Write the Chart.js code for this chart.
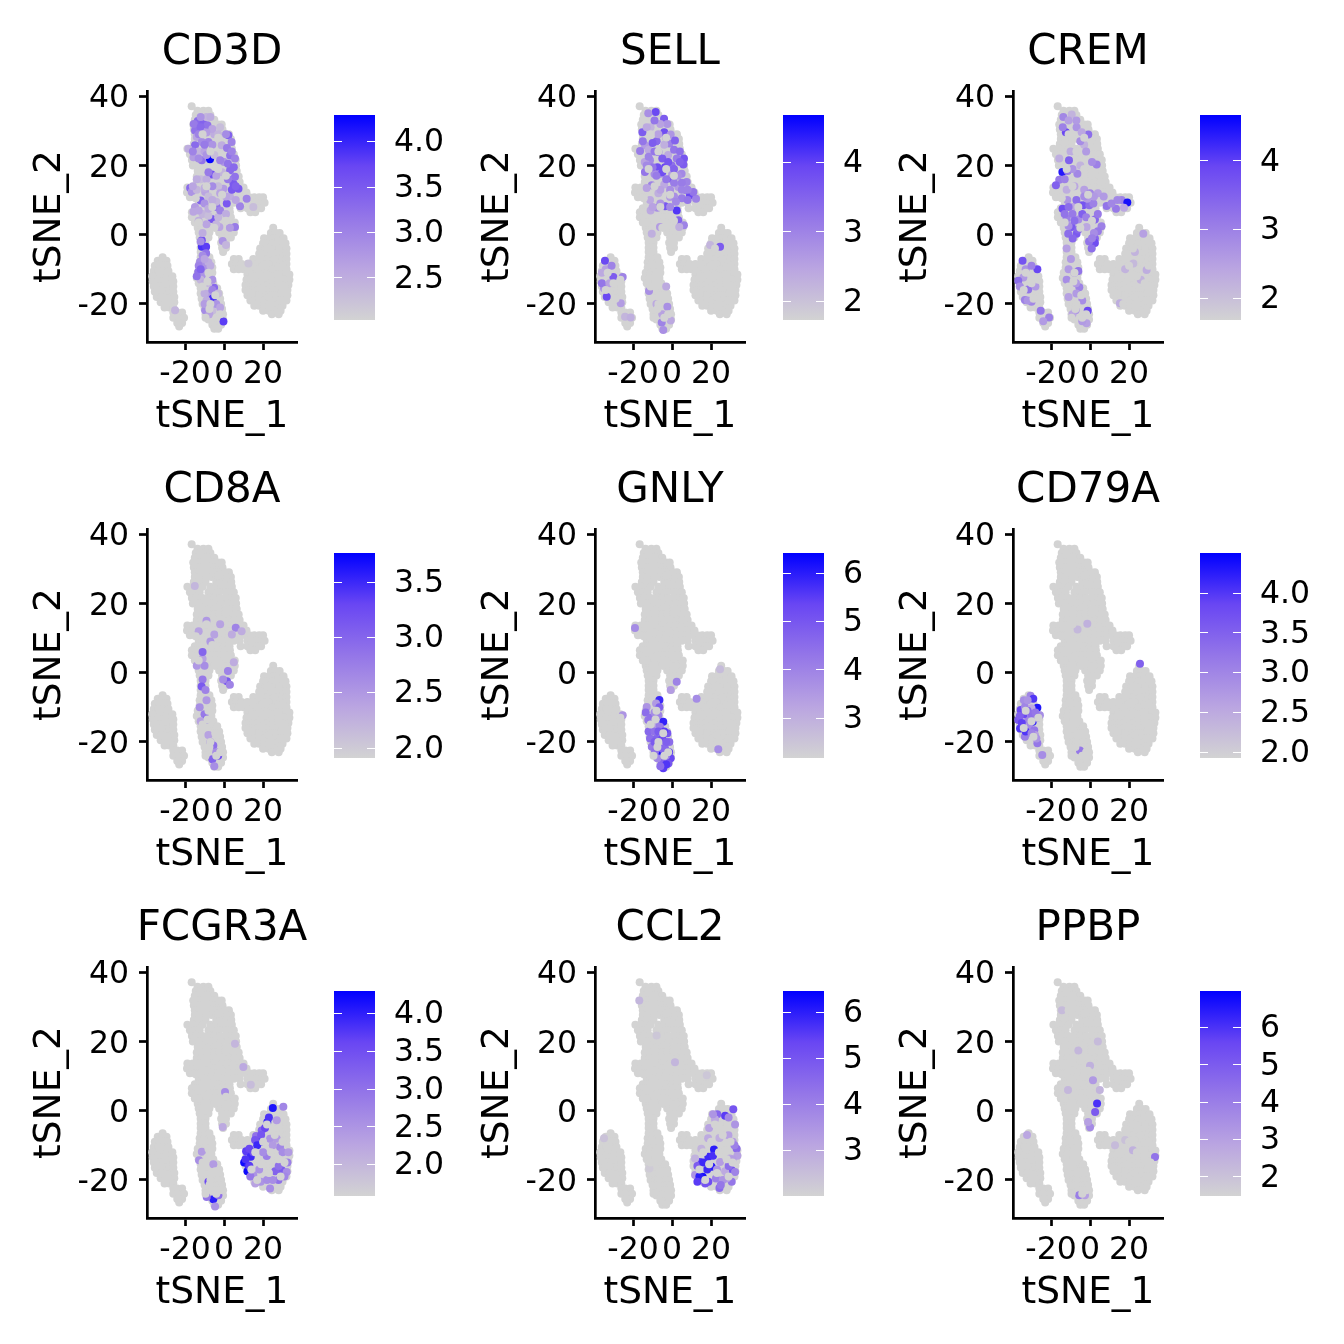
<!DOCTYPE html>
<html>
<head>
<meta charset="utf-8">
<title>tSNE feature plots</title>
<script src="https://cdn.jsdelivr.net/npm/chart.js@4"></script>
<style>
	html, body { margin: 0; padding: 0; background: #ffffff; }
	canvas { position: absolute; }
</style>
</head>
<body>
<script>
// tick labels
var xTicks = [-20, 0, 20];
var yTicks = [-20, 0, 20, 40];

// every cell, one row per line: y first, then the x values on that row
var upperLobe = [
	[37.1,-16.6],
	[35.8,-13.6,-10.6,-8],
	[34.6,-14.5,-12,-9.5,-7],
	[33.2,-15,-12.5,-10,-7.5,-5],
	[31.8,-15.8,-13,-10.5,-8,-5.5,-3,-1.2],
	[30.4,-15.5,-13,-10,-7.5,-5,-2.5,-0.8],
	[29,-15,-12.5,-10,-7,-4.5,-2,0.5,2.5],
	[27.6,-15,-12.5,-9,-6.5,-4,-1,1.5,3.5],
	[26.2,-15.5,-12,-9.5,-4,-2,1,3.7],
	[24.8,-18.8,-16,-13.5,-11,-7,-4,-1.5,1,4],
	[23.2,-17.5,-15,-12.5,-8,-5,-2.5,1,3.5,5],
	[21.6,-16.5,-14,-11,-8,-5,-2,0.5,3.5,6],
	[20,-16,-13,-10,-7,-4,-1.5,2,4.5,6.2],
	[18.4,-13.5,-11,-8,-5,-2,1,4,6.5],
	[16.8,-14,-11,-8,-5,-2.5,0.5,3,6,7.5],
	[15.2,-14,-11.5,-9,-6,-3,0,3,5.5,8],
	[13.6,-18.8,-16,-13,-10,-7,-4,-1,2,5,8,10],
	[12.2,-19,-16.5,-14,-11,-8,-5,-2,1,4,7,9.5,11.5],
	[10.8,-17.5,-15,-12,-9,-6,-3,0,3,6,9,11.5,13,15.5,18,20],
	[9.2,-13,-10,-7,-4,-1,2,5,8,12,14,16.5,19,20.8],
	[7.6,-15,-12,-9,-6,-3,0,2.8,8.5,12,14.5,17,19],
	[6.5,-16.5,-14,-11,-8,-5,-2,0.5,3,13.5,16],
	[5,-16.5,-13.5,-10.5,-7.5,-4.5,-1.5,1.5,3.5],
	[3.5,-15,-12,-9,-6,-3,0,3,5.5],
	[2,-13.5,-10.5,-7.5,-4,-1,2,5.5],
	[0.6,-13,-10,-7.5,-2.5,0.5,3,5],
	[-0.8,-12.5,-10,-8,-1,1.5,3.5],
	[-2.3,-12,-9.5,-1.5,1],
	[-3.8,-12,-9.5,-1,1],
	[-5,-12,-9.5,-0.5]
];
var stemCells = [
	[-6.5,-12,-9.5,-7.5],
	[-8,-12.5,-10,-7.5,-6.5],
	[-9.5,-12.5,-10,-7.5,-6],
	[-11,-13.5,-11,-8.5,-6],
	[-12.5,-14,-11.5,-9,-6.5],
	[-14,-13,-10.5,-8,-5.5],
	[-15.5,-12,-9.5,-7,-5,-3.5],
	[-17,-12,-9.5,-7,-4.5,-2.5],
	[-18.5,-11.5,-9,-6.5,-4,-2],
	[-20,-11,-8.5,-6,-3.5,-1.5],
	[-21.5,-10,-7.5,-5,-2.5,-1],
	[-23,-9.5,-7,-4.5,-2,-0.5],
	[-24.5,-8,-5.5,-3,-0.5],
	[-26,-6,-3.5,-1.5],
	[-27.2,-5,-3]
];
var leftCells = [
	[-6.5,-31.5],
	[-7.5,-34,-31.5,-29.5],
	[-9,-35.5,-33,-30.5,-29],
	[-10.5,-36,-33.5,-31,-28.5],
	[-12,-36.8,-34,-31.5,-29,-26.5],
	[-13.5,-36.5,-34,-31.5,-29,-26],
	[-15,-36,-33.5,-31,-28.5,-26],
	[-16.5,-35.5,-33,-30.5,-28,-26],
	[-18,-34.5,-32,-29.5,-27,-25.5],
	[-19.5,-32.5,-30,-27.5,-25.5],
	[-21,-30.5,-28,-26],
	[-22.5,-26,-24,-21.5],
	[-24,-26,-24,-21.5,-20.5],
	[-25.5,-24,-21.5],
	[-26.5,-23]
];
var rightCells = [
	[2,25.2],
	[0.5,24,26.5,28.5],
	[-1,20.5,23,25.5,28,30.5],
	[-2.5,20,22.5,25,27.5,30,31.5],
	[-4,18.5,21,23.5,26,28.5,31,32],
	[-5.5,18,20.5,23,25.5,28,30.5,32],
	[-7,5,7.5,15,17.5,20,22.5,25,27.5,30,32],
	[-8.5,4,6.5,9,12,14.5,17,19.5,22,24.5,27,29.5,32],
	[-10,5,7.5,10,12.5,15,17.5,20,22.5,25,27.5,30,32],
	[-11.5,12,14.5,17,19.5,22,24.5,27,29.5,32,33.5],
	[-13,11.5,13.5,16,18.5,21,23.5,26,28.5,31,33.5],
	[-14.5,11,12.5,15,17.5,20,22.5,25,27.5,30,33],
	[-16,11,12.5,15,17.5,20,22.5,25,27.5,30,32.5],
	[-17.5,12,14,16.5,19,21.5,24,26.5,29,31.5,32.5],
	[-19,13.5,15.5,18,20.5,23,25.5,28,30.5,32],
	[-20.5,15.5,18,20.5,23,25.5,28,30],
	[-22,20,23,25.5,28,29],
	[-23,24.5,28]
];

// non-expressing cells that sit on top of the coloured ones
var topCells = [
	[-11,29],[-3,28],[-7,24],[-12,19],[-3,19],[1,17],[-9,14],[-14.5,10.5],[-1,11.5],[-6,8],[-13,3.5],[-5,2],[1,4],
	[-8,-11],[-11,-15],[-7,-20],[-4,-24],[-9.5,-24],[-8.5,-13.5],[-4.5,-17.5],[-7.5,-21.5],[-2,-23],
	[-33,-11],[-30,-14],[-34,-16],[-29,-18.5],[-26.5,-13],
	[22,-4],[26,-7],[20,-9],[16,-12],[24,-12],[30,-9],[28,-14],[19,-15.5],[23,-18],[14,-17],[29,-19],[31,-15],[17,-20]
];

// expressing cells of each gene: x, y, expression
var cd3dCells = [
	[-13.5,32.8,3.3],[-14.9,30.1,3.2],[-10.6,32,3.4],[-8.5,31.6,3.2],[-14,28.2,2.6],[-8,26.8,3],[-11.4,26.8,2.9],[-14.9,25.8,3.3],
	[-18.3,24.8,2.5],[-15.7,22.4,2.7],[-11.4,21.5,3.2],[-7.2,21.8,4.25],[-6.3,17.4,3.6],[2.2,28.7,3.4],[3.9,26.8,3],[3.1,22.9,3.2],
	[5.6,22,3],[3.1,18.6,3.3],[-1.2,25.8,2.5],[4.8,14.7,3.5],[7.4,13.3,3.5],[5.6,16.7,3.2],[-17.4,13.5,3.3],[-16.6,12.3,2.8],
	[-12,9.9,3.4],[-9.7,12.3,2.6],[-0.3,13.3,2.7],[1.4,9,3.5],[-3.8,8,3.2],[-6.3,4.5,3.5],[-14.9,8,2.7],[-15.7,6.6,2.6],
	[-2.4,2.2,2.6],[5.6,2.2,3.1],[8.2,8.2,3],[11.6,10.4,3],[15,8,2.3],[-0.7,-1.8,2.8],[-11.4,-1.6,3.6],[-11.4,-3.5,3.9],
	[-9.2,-3.5,3.8],[-9.2,-5.4,3.2],[-12.3,-7.8,2.9],[-9.7,-8.8,2.8],[-13.2,-10.7,3.2],[-11.4,-11.7,2.8],[-5.1,-15.3,3.3],[-7.5,-17.1,2.7],
	[-5.8,-18.4,3.9],[-9.7,-21.8,2.9],[-0.3,-25.1,3.8],[-25.1,-21.8,2.4],[12.5,-8.3,2.2],
	[-9,34,2.4],[-5,29,2.5],[-2,31,2.3],[-13,24,2.4],[-10,24,2.6],[-5,23,2.3],[0,21,2.8],[-1,18,2.4],[-12,16,2.3],[-9,16,2.5],
	[-3,14,2.3],[-14,13,2.4],[-8,11,2.3],[-4,9.5,2.4],[3,11,2.5],[6,10,2.6],[-11,6,2.4],[-8,5.5,2.3],[-3,5,2.4],[-11,0.5,2.5],
	[1,-3,2.4],[-8,-8,2.5],[-12,-13,2.4],[-8,-14,2.3],[-9,-19,2.5],[-6,-22,2.3],
	[-12,34,2.8],[-7,34,2.5],[-15.5,32,3.1],[-12,31,3.3],[-6,30.5,2.6],[-13,29,3],[-9,29.5,2.7],[-3,29,2.4],[1,29,2.9],[-6,26,2.8],
	[-10,26,3.1],[1.5,25,3.1],[4,24,3],[-16,24,3],[-13,22,2.9],[-9,23,2.8],[-2,21.5,3],[2,20.5,3.2],[5,19.5,3.3],[-4,17,2.6],
	[2,16,3.1],[4,13,3.5],[6,14,3.4],[-8,18,3.1],[-14,16,2.5],[-10,13.5,2.5],[-6,14,2.9],[-2,12,2.6],[-16,14,2.6],[1,11,2.6],
	[-10,9,2.8],[-6,10,2.5],[-13,7,2.6],[-8,7.5,2.5],[-2,7,3],[1,6,2.5],[-13,4,2.5],[-9,3,2.6],[-4,3,2.4],[3,2,2.7],
	[-12,-2,2.9],[-11,-6,2.9],[-10,-7,2.6],[-13,-9,3],[-9,-10,2.8],[-7,-9,2.5],[-14,-12,3.2],[-12,-10,3.4],[-10,-14,2.5],[-6,-13,2.8],
	[-6,-16,3],[-10,-17,2.5],[-3,-17,2.3],[-4,-20,2.8],[-10,-20,2.7],[-7.5,-23,2.6],[-2,-21,2.6]
];
var sellCells = [
	[-8.4,35.4,3.9],[-12.2,35.1,2.8],[-4.1,33.5,3.6],[-2.4,32,2.7],[-15.2,29.6,3.6],[-4,29.6,3.8],[-0.7,28.9,2.7],[-7.9,27,3.4],
	[-13.9,25.8,2.6],[-1.4,26.3,3],[1.5,27.2,3.5],[-16.4,24.2,3.1],[-7,23.9,3.6],[-11.3,21.5,2.9],[6.1,22,3.7],[2.4,22,3.1],
	[-7.5,19.5,3.8],[-3.6,19.5,3.9],[-0.2,20,3.3],[5.8,20.3,3.6],[-13.9,18.1,3.2],[-6.2,17.6,2.9],[4.9,17.6,2.9],[-0.7,16.2,3.7],
	[7.5,15.2,3],[-10.4,14.3,3],[3.2,13.8,2.6],[7.2,12.8,3],[9.2,11.4,3.9],[12.3,10.4,3],[10.9,12.3,3.2],[-3.6,8.2,3.7],
	[2.4,7,4.1],[-7.5,7.8,2.8],[-1,10.9,2.6],[-11.3,10,2.4],[3.2,4.2,3.5],[6.1,2.7,3],[3.7,2.2,2.3],[-6.2,2.2,2.6],[-10.4,0.3,2.3],
	[-34.4,-7.5,3.9],[-25.3,-12.2,3],[-34.9,-15.5,2.8],[-33.5,-17.9,3.9],[-30.1,-12.2,3.6],[-36,-14,3.2],[-26.3,-19.8,2.6],[-24.1,-23.7,2.2],
	[-21.2,-23.9,2.3],[-11.8,-16.3,2.8],[-2.4,-20.8,2.8],[-5.3,-25.4,3],[-4.5,-27.5,2.8],[-0.7,-24.8,2.4],[19.5,-3,2.2],[24.6,-3.5,3.6],
	[-11,31,2.2],[-6,32,2.5],[-12,24.5,2.4],[-4,26,2.3],[-2,23,2.4],[-14,21,2.5],[0,17.5,2.6],[-9,17.5,2.8],[-4,14.5,2.4],[3,17,2.8],[-7,12,2.3],[-11,7,2.4],
	[-9,33,3.2],[-13,31,2.4],[-7,29,2.5],[-15,27,3.2],[-10,26.5,3.6],[-3,28,3.1],[1,24.5,3.2],[4,24,3.3],[-9,24,3.2],[-12,22.5,3],
	[-5,22,3.6],[-2,21,3.7],[1,19,3.5],[4,21,3.5],[-10,19.5,3.2],[-13,20,2.9],[-5,18,3.8],[-8,17,3.1],[-3,16,3.2],[1,15,3.1],
	[5,15,3.1],[-1,13,2.8],[5,13,3],[8,13,3],[-13,13.5,2.5],[-6,13,2.5],[1,11,2.8],[5,10.5,3.1],[8,10,3.2],[-1,8,2.9],
	[-6,9,2.7],[-10,8,2.5],[2,9.5,2.9],[-34,-10,2.5],[-36,-11,2.4],[-32,-14,2.5],[-31,-9,3],[-8,-20,2.4],[-3,-15,2.4],[-5,-23,2.5]
];
var cremCells = [
	[-13.7,34,2.9],[-9.4,34.7,2.2],[-6.9,31,2.7],[-0.9,28.9,3.3],[-4.3,29.6,2.4],[-12.4,29.6,3.9],[-10.8,21.5,3.5],[-14.2,18.1,4.4],
	[-11.5,18.4,3.1],[-6.5,17.6,2.9],[-15.8,22,2.3],[3.4,20.3,3],[-15.8,15.9,3.1],[-17.5,14.3,3.5],[-11.7,10,2.7],[-14.1,7.5,3.8],
	[-5.2,8.5,3.2],[-3.5,8.5,3.7],[-0.4,8.5,3.3],[1.7,9,3],[-1.4,10.4,2.6],[-8.9,8,2.4],[-12,4.6,3],[-6,4.4,2.8],[-9.4,2.2,3.6],
	[-6.9,0.3,3.6],[-11.2,0.3,3.3],[-8.9,-1.1,3.4],[2.5,4.4,3.4],[-1.8,2.2,2.4],[5.9,2.4,3],[2.5,-1.1,3.4],[2.5,-2.4,3.8],[0.8,-4,3.3],
	[8.5,8.3,3.2],[13.3,7.5,3.1],[16.2,10,3],[19.1,9.3,4.5],[17.4,7.8,2.4],[27.3,0.3,2.5],[29,-10.2,2.3],[22.2,-8.3,2.1],[15.3,-19.8,2.3],
	[-9.8,-7,2.6],[-6,-10.5,3.2],[-5.5,-15.2,3],[-7.2,-14,2.6],[-7.4,-21.8,2.7],[-1.2,-22,3.9],[-1.8,-25.6,2.5],
	[-31.7,-15.8,3.2],[-33.4,-18.9,3],[-30,-19.4,2.9],[-25.3,-22,3.2],[-21,-23.9,3],[-34.2,-12.4,2.6],[-34.6,-7.5,3.7],[-27,-10,3.9],[-36.8,-13.3,3.3],
	[-10,24,2.3],[-3,26,2.2],[-8,14,2.4],[-3,13,2.5],[-12,13,2.3],[4,12,2.5],[7,11,2.6],[-5,20,2.2],
	[-14,31,3],[-11,33,2.5],[-7,33,2.6],[-5,27,2.8],[-2,24,2.6],[1,21,2.8],[-13,16,3],[-9,19,2.7],[-7,10,3.3],[-11,8,3.3],
	[-9,6,3.1],[-4,6,3.5],[-2,5,3],[-13,6,3.2],[-11,2.5,2.8],[-8,4,3.3],[-6,1.5,3.4],[-3,11,2.8],[0,12,2.9],[2,11,2.6],
	[4,6,3.1],[4,1,3.1],[2,0.5,2.8],[-0.5,-2,3.2],[1,-1,3],[11,9,2.9],[14,10,2.9],[-12,-4,2.5],[-11,-10,2.6],[-12,-13,2.8],
	[-8,-11,2.8],[-7,-17,2.6],[-11,-18,2.5],[-4,-19,2.8],[-9,-23,2.4],[-4,-25,2.6],[-33,-10,2.7],[-30,-9,3],[-36,-15,2.8],[-32,-19,2.7],
	[-28,-15,2.6],[-24,-25,2.6],[23,-5,2.2],[18,-10,2.2],[26,-13,2.2]
];
var cd8aCells = [
	[-11,-2,2.8],[-11.5,-4,3.1],[-9.5,-5,2.7],[-12.5,-10,2.6],[-10,-12,2.8],[-9,-13.5,3],[-12,-14,2.4],[-9,-8,2.5],[-7,-20,2.6],[-5.5,-21,2.9],
	[-4,-23,2.6],[-6,-25,3],[-3,-24,3.2],[-5,-27,2.6],[-8,-18,2.4],[-14,2,2.5],[-11,4,2.4],[-11,6,3],[2,0.5,2.7],[1.5,-2.5,3.1],[3,-3.5,2.7],
	[-0.5,-2,2.6],[5,3,2.3],[-5,11,2.4],[-9,15,2.5],[-7,9,2.5],[6,13,2.7],[4,11,2.3],[-15,25,2.2],[-2,14,2.4],[-13,12,2.4],[9,12,2.3],[-10,2,2.6]
];
var gnlyCells = [
	[-6.5,-7.9,5.8],[-8.2,-8.9,3.5],[-13,-9.9,3.6],[-13.5,-11.5,4.5],[-7,-12.3,4],[-4.5,-14.2,5.9],[-12.2,-13.7,4.3],[-8.7,-14.7,4.2],[-6.2,-15.6,4.1],
	[-10.5,-16.6,4.8],[-2.4,-17.5,5],[-11.3,-19,4.5],[-7.9,-19,4.7],[-1.4,-20,4.5],[-7,-21.4,5.1],[-10.4,-21.4,4.2],[-3.6,-21.9,4.6],[-6.2,-23.8,6.1],
	[-8.7,-22.8,4.4],[-0.7,-24.7,5.3],[-5.3,-25.7,4.6],[-1.9,-26.2,5],[-4.5,-27.6,5.5],[-7.5,-24.7,3.9],[-3.1,-24,3.9],[-5.3,-17.5,3.7],[-10.4,-15.1,3.1],[-6.2,-20,3.4],
	[-25.3,-12.3,3.6],[2.4,-2.6,4],[-0.7,-5,3.4],[-19,12.9,3.8],[12.6,-7.5,3.8],[23.7,-22.1,3.8],[24.6,1,2.7],
	[-12,-17,4.6],[-9,-17,4.4],[-5,-19,5.2],[-3,-20,4.8],[-9,-20,4.9],[-5,-22,4.6],[-1.5,-23,5.5],[-3,-26.5,5.6],[-6,-27,4.5],[-11,-13,4.4],[-9,-11.5,3.8],[-6.5,-10,4.8],[-4,-17,5.5],[-7,-17,4.9]
];
var cd79aCells = [
	[-30.5,-6.7,3],[-29.1,-7.5,4],[-33.9,-8,2.9],[-35.6,-10.8,3.8],[-27,-10.1,4.3],[-33.4,-9.9,3],[-25.7,-12.3,2.9],[-36.8,-13.7,3.6],[-34.6,-15.6,3.9],
	[-29.4,-14.2,4.2],[-31.2,-15.8,2.9],[-28.6,-16.6,3.2],[-33.4,-18.5,3.1],[-27,-20.4,3.2],[-24.5,-23.8,2.9],[-31.7,-13.7,3],[-35.9,-16.1,4],[-28.2,-18,2.6],[-30,-10.3,2.5],
	[25.6,2.6,3.5],[-6.4,12.5,2.3],[-1.4,14.1,2.4],[-5.2,-22.5,3.2],
	[-34,-12,3.8],[-32,-11,3.4],[-36,-12.5,3.5],[-30,-12,3.3],[-33,-17,4],[-30,-17.5,3],[-27,-13,3],[-35,-14.5,3.9],[-28,-11.5,3.2],[-32,-8,2.8],[-27.5,-19,2.8]
];
var fcgr3aCells = [
	[22.2,-3.3,3.9],[19.3,-5.7,3.2],[16.4,-7.3,3],[25,0.8,4.1],[18.8,-9,4],[15.9,-8.5,3.4],[11.3,-11.7,3.7],[13.7,-13.3,3.9],[10.3,-15,4.2],[12,-17.5,4.2],[12.5,-15.8,3.9],
	[21.9,-13.1,2.8],[28.7,-10.5,2.7],[32.5,-15,2.8],[29.6,-17.2,3.3],[26.2,-17.5,3.2],[32.1,-17.7,2.6],[27.9,-20,3],[23.6,-22.5,2.6],[18.8,-20.5,2.5],[15,-18.6,2.5],
	[30.4,1.1,2.7],[27,-2.8,2.4],[23.6,-8.1,2.5],[27,-8.1,2.4],
	[-5.5,-25.6,4],[-2.9,-24.4,3],[-8.9,-24.9,2.9],[-4.6,-27.7,2.5],[-5.5,-15.5,2.4],[-12.8,-14.3,2.6],[-8,-20.5,3.6],[-11.4,-11.9,2.4],
	[0.5,5.4,2.6],[-0.7,-4.7,2.2],[9.9,12.6,2.2],[5.6,19.3,2],[13.7,7.5,1.9],
	[17,-10,3.9],[15,-12,3.5],[13,-11,3.6],[11,-14,3.8],[13,-16,3.7],[13.5,-19,2.9],[21,-5,3.6],[19,-7,3.4],[23,-2,3.8],[20,-12,2.6],
	[25,-10,2.4],[18,-17,2.5],[22,-20,2.6],[30,-12,2.6],[33,-12,2.4],[28,-16,3],[31,-19,2.7],[25,-20,2.6],[16,-21,2.3]
];
var ccl2Cells = [
	[23.2,-1,4.6],[31.4,0.4,5],[22,-2.5,3],[27.2,-1.5,5.5],[32.3,-4,3.5],[24.3,-7.9,2.9],[28.9,-7.1,3.2],[31.1,-9,3.3],[33.1,-11,4.5],[21.5,-11.2,6],[14.3,-14.8,5.5],
	[18.6,-13.3,5.8],[29.7,-13.8,3],[33.5,-13,3.2],[11.8,-13.8,2.8],[24.6,-14.8,3.3],[20.3,-16.2,6],[30.6,-17.2,5],[27.2,-17.5,3],[15.7,-19.1,6.2],[11.8,-18.6,3.5],
	[18.6,-20.5,5.2],[22.5,-19.6,4],[30.6,-20.5,4.2],[28,-19.6,3.3],[24.3,-22.3,4.5],[32.3,-17.7,3.9],
	[-16.8,31.8,2.7],[-7.9,21.7,2.3],[1.5,14,2.7],[17.8,10.2,2.3],[-34.9,-8,2.4],[-11.6,-16.7,2.2],
	[13,-16,4.8],[16,-15,5.8],[18,-17,5.8],[14,-19,6],[13,-20.5,5.5],[21,-13,5.7],[17,-21,5],[23,-17,3.5],[26,-20,3.5],
	[29,-16,4.4],[31,-14,3.3],[32,-10,4],[25,-21.5,4.2],[19,-5,3.2],[21,-1,3.5],[29,-2,3.8],[15,-11,2.8],[18.5,-8,3]
];
var ppbpCells = [
	[3.6,2.1,6],[2.6,-0.4,5],[0,-4.8,3.6],[-1,-3.3,3],[1.5,8.8,3.2],[33.3,-13.4,4.3],[-5.6,-24.4,4],[-2.6,-24.4,3],[-32.3,-7,2.8],[18,-8.5,2],[22,-11.4,2.5],
	[12.8,-10,2.2],[-6,17.4,2.3],[0,13,2.5],[4,20,2.2],[-14.4,29,2.2],[-11.3,6,2.3],[5,6,2.4]
];

// gene names, colour bar ranges and colour bar ticks
var genes = ["CD3D", "SELL", "CREM", "CD8A", "GNLY", "CD79A", "FCGR3A", "CCL2", "PPBP"];
var geneCells = [cd3dCells, sellCells, cremCells, cd8aCells, gnlyCells, cd79aCells, fcgr3aCells, ccl2Cells, ppbpCells];
var barMin = [2.03, 1.72, 1.68, 1.905, 2.16, 1.92, 1.58, 2.0, 1.47];
var barMax = [4.29, 4.68, 4.66, 3.76, 6.42, 4.5, 4.29, 6.46, 6.97];
var barTicks = [
	[2.5, 3, 3.5, 4],
	[2, 3, 4],
	[2, 3, 4],
	[2, 2.5, 3, 3.5],
	[3, 4, 5, 6],
	[2, 2.5, 3, 3.5, 4],
	[2, 2.5, 3, 3.5, 4],
	[3, 4, 5, 6],
	[2, 3, 4, 5, 6]
];
var barDecimals = [1, 0, 0, 1, 0, 1, 1, 0, 0];

// grey to blue scale
var scaleStops = [
	[211, 211, 211],
	[186, 165, 225],
	[148, 118, 232],
	[105, 70, 243],
	[0, 0, 255]
];

var grey = "#D3D3D3";
var colLeft = [0, 448, 866];
var barLeft = [334, 783, 1200];
var rowTop = [0, 438, 876];

function colourAt(t) {
	t = Math.max(0, Math.min(1, t)) * (scaleStops.length - 1);
	var i = Math.min(Math.floor(t), scaleStops.length - 2);
	var f = t - i;
	var c = [0, 1, 2].map(function (k) {
		return Math.round(scaleStops[i][k] + (scaleStops[i + 1][k] - scaleStops[i][k]) * f);
	});
	return "rgb(" + c.join(",") + ")";
}

function rowsToPoints(rows) {
	var out = [];
	rows.forEach(function (row) {
		for (var i = 1; i < row.length; i++) {
			out.push({ x: row[i], y: row[0] });
		}
	});
	return out;
}

var allCells = [].concat(rowsToPoints(upperLobe), rowsToPoints(stemCells), rowsToPoints(leftCells), rowsToPoints(rightCells));

function addCanvas(left, top, w, h) {
	var c = document.createElement("canvas");
	c.width = w;
	c.height = h;
	c.style.left = left + "px";
	c.style.top = top + "px";
	c.style.width = w + "px";
	c.style.height = h + "px";
	document.body.appendChild(c);
	return c;
}

Chart.defaults.font.family = "'DejaVu Sans'";
Chart.defaults.color = "#000000";

var barTickMarks = {
	id: "barTickMarks",
	afterDatasetsDraw: function (chart) {
		var ctx = chart.ctx, area = chart.chartArea, y = chart.scales.y;
		ctx.save();
		ctx.strokeStyle = "#ffffff";
		ctx.lineWidth = 1;
		y.ticks.forEach(function (t) {
			var py = Math.round(y.getPixelForValue(t.value)) + 0.5;
			ctx.beginPath();
			ctx.moveTo(area.left, py);
			ctx.lineTo(area.left + 8, py);
			ctx.moveTo(area.right - 8, py);
			ctx.lineTo(area.right, py);
			ctx.stroke();
		});
		ctx.restore();
	}
};

function drawPanel(g) {
	var col = g % 3, row = Math.floor(g / 3);
	var cells = geneCells[g];
	var lo = barMin[g], hi = barMax[g];

	new Chart(addCanvas(colLeft[col], rowTop[row], 444, 438), {
		type: "scatter",
		data: {
			datasets: [
				{ data: topCells.map(function (p) { return { x: p[0], y: p[1] }; }), pointBackgroundColor: grey },
				{
					data: cells.map(function (p) { return { x: p[0], y: p[1] }; }),
					pointBackgroundColor: cells.map(function (p) { return colourAt((p[2] - lo) / (hi - lo)); })
				},
				{ data: allCells, pointBackgroundColor: grey }
			]
		},
		options: {
			responsive: false,
			animation: false,
			clip: false,
			elements: { point: { radius: 4, borderWidth: 0, hoverRadius: 4 } },
			plugins: {
				legend: { display: false },
				tooltip: { enabled: false },
				title: {
					display: true,
					text: genes[g],
					color: "#000000",
					font: { size: 42, weight: "normal", lineHeight: 1 },
					padding: { top: 32, bottom: 17 }
				}
			},
			scales: {
				x: {
					type: "linear",
					min: -39.5,
					max: 37.4,
					afterFit: function (s) { s.height = 96; },
					afterBuildTicks: function (s) { s.ticks = xTicks.map(function (v) { return { value: v }; }); },
					grid: { drawOnChartArea: false, tickLength: 8, tickWidth: 2.7, tickColor: "#000000" },
					border: { color: "#000000", width: 2.7 },
					ticks: { font: { size: 31.5 }, padding: 6, autoSkip: false, maxRotation: 0, color: "#000000" },
					title: { display: true, text: "tSNE_1", color: "#000000", font: { size: 37.5, lineHeight: 1 }, padding: { top: 0, bottom: 2 } }
				},
				y: {
					type: "linear",
					min: -31,
					max: 41.5,
					afterFit: function (s) { s.width = 147; },
					afterBuildTicks: function (s) { s.ticks = yTicks.map(function (v) { return { value: v }; }); },
					grid: { drawOnChartArea: false, tickLength: 8, tickWidth: 2.7, tickColor: "#000000" },
					border: { color: "#000000", width: 2.7 },
					ticks: { font: { size: 31.5 }, padding: 10, autoSkip: false, labelOffset: 3, color: "#000000" },
					title: { display: true, text: "tSNE_2", color: "#000000", font: { size: 37.5, lineHeight: 1 }, padding: { top: 32, bottom: 0 } }
				},
				// empty axis that keeps the title centred over the plot
				rightGap: {
					type: "linear",
					position: "right",
					min: 0,
					max: 1,
					afterFit: function (s) { s.width = 147; },
					grid: { display: false },
					border: { display: false },
					ticks: { display: false }
				}
			}
		}
	});

	// the y axis keeps one label height free above and below the bar
	new Chart(addCanvas(barLeft[col], rowTop[row] + 77, 120, 281), {
		type: "bar",
		plugins: [barTickMarks],
		data: {
			labels: [genes[g]],
			datasets: [{
				data: [[lo, hi]],
				barPercentage: 1,
				categoryPercentage: 1,
				borderWidth: 0,
				backgroundColor: function (ctx) {
					var area = ctx.chart.chartArea;
					if (!area) return grey;
					var grad = ctx.chart.ctx.createLinearGradient(0, area.bottom, 0, area.top);
					scaleStops.forEach(function (s, i) {
						grad.addColorStop(i / (scaleStops.length - 1), "rgb(" + s.join(",") + ")");
					});
					return grad;
				}
			}]
		},
		options: {
			responsive: false,
			animation: false,
			layout: { autoPadding: false, padding: { top: 10, bottom: 10 } },
			plugins: { legend: { display: false }, tooltip: { enabled: false } },
			scales: {
				x: { display: false },
				y: {
					position: "right",
					min: lo,
					max: hi,
					afterFit: function (s) { s.width = 79; },
					afterBuildTicks: function (s) { s.ticks = barTicks[g].map(function (v) { return { value: v }; }); },
					grid: { display: false, drawTicks: false },
					border: { display: false },
					ticks: {
						font: { size: 31.5 },
						padding: 19,
						labelOffset: 2,
						color: "#000000",
						autoSkip: false,
						callback: function (v) { return v.toFixed(barDecimals[g]); }
					}
				}
			}
		}
	});
}

genes.forEach(function (name, g) { drawPanel(g); });
</script>
</body>
</html>
